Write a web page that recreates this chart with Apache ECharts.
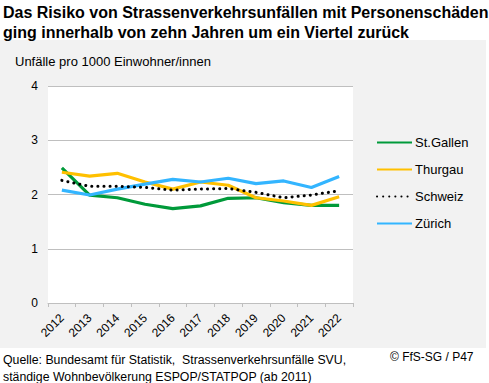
<!DOCTYPE html>
<html><head><meta charset="utf-8">
<script src="https://cdn.jsdelivr.net/npm/echarts@6/dist/echarts.min.js"></script>
<style>html,body{margin:0;padding:0;background:#fff;}#c{width:489px;height:383px;}</style>
</head><body><div id="c"></div>
<script>
const years = ['2012','2013','2014','2015','2016','2017','2018','2019','2020','2021','2022'];
const stGallen = [2.49,1.99,1.94,1.82,1.74,1.79,1.93,1.94,1.85,1.80,1.80];
const thurgau = [2.41,2.34,2.39,2.23,2.10,2.23,2.17,1.94,1.88,1.80,1.96];
const schweiz = [2.26,2.15,2.15,2.13,2.08,2.10,2.11,2.04,1.94,1.99,2.07];
const zuerich = [2.08,1.99,2.10,2.19,2.28,2.23,2.30,2.20,2.25,2.13,2.33];
const yTicks = [0,1,2,3,4];

const F = 'Arial, "Liberation Sans", sans-serif';
const chart = echarts.init(document.getElementById('c'), null, {renderer:'svg'});
chart.setOption({
  animation:false,
  backgroundColor:'#fff',
  textStyle:{fontFamily:F},
  graphic:[
    {type:'rect', z:-10, shape:{x:0,y:40,width:486,height:308}, style:{fill:'#f2f2f2'}},
    {type:'text', left:3, top:2, style:{text:'Das Risiko von Strassenverkehrsunfällen mit Personenschäden\nging innerhalb von zehn Jahren um ein Viertel zurück', font:'bold 16px '+F, fill:'#000', lineHeight:20}},
    {type:'text', left:15, top:55, style:{text:'Unfälle pro 1000 Einwohner/innen', font:'13px '+F, fill:'#000'}},
    {type:'text', left:3, top:351, style:{text:'Quelle: Bundesamt für Statistik,  Strassenverkehrsunfälle SVU,\nständige Wohnbevölkerung ESPOP/STATPOP (ab 2011)', font:'12.3px '+F, fill:'#000', lineHeight:17}},
    {type:'text', left:390, top:351, style:{text:'© FfS-SG / P47', font:'12px '+F, fill:'#000'}}
  ],
  grid:{left:48, right:136, top:86, bottom:80, show:true, backgroundColor:'#fff', borderWidth:0},
  legend:{
    orient:'vertical', left:371, top:131, itemWidth:35, itemHeight:14, itemGap:14,
    itemStyle:{opacity:0},
    textStyle:{fontFamily:F, fontSize:13, color:'#000', padding:[0,0,0,-2]},
    data:['St.Gallen','Thurgau','Schweiz','Zürich']
  },
  xAxis:{
    type:'category', data:years, boundaryGap:true,
    axisLine:{lineStyle:{color:'#bfbfbf', width:1}},
    axisTick:{show:true, length:4, lineStyle:{color:'#bfbfbf'}},
    axisLabel:{rotate:45, color:'#000', fontSize:12, fontFamily:F, margin:13, interval:0}
  },
  yAxis:{
    type:'value', min:yTicks[0], max:yTicks[yTicks.length-1], interval:1,
    axisLine:{show:false}, axisTick:{show:false},
    axisLabel:{color:'#000', fontSize:12, fontFamily:F, margin:10},
    splitLine:{lineStyle:{color:'#bfbfbf', width:1}}
  },
  series:[
    {name:'St.Gallen', type:'line', data:stGallen, symbol:'none', lineStyle:{color:'#009a3a', width:3.2}, itemStyle:{color:'#009a3a'}},
    {name:'Thurgau', type:'line', data:thurgau, symbol:'none', lineStyle:{color:'#ffc000', width:3.2}, itemStyle:{color:'#ffc000'}},
    {name:'Schweiz', type:'line', data:schweiz, symbol:'none', z:5, lineStyle:{color:'#000', width:3, type:[0.1,6], cap:'round'}, itemStyle:{color:'#000'}},
    {name:'Zürich', type:'line', data:zuerich, symbol:'none', lineStyle:{color:'#33b5ff', width:3.2}, itemStyle:{color:'#33b5ff'}}
  ]
});
</script>
</body></html>
